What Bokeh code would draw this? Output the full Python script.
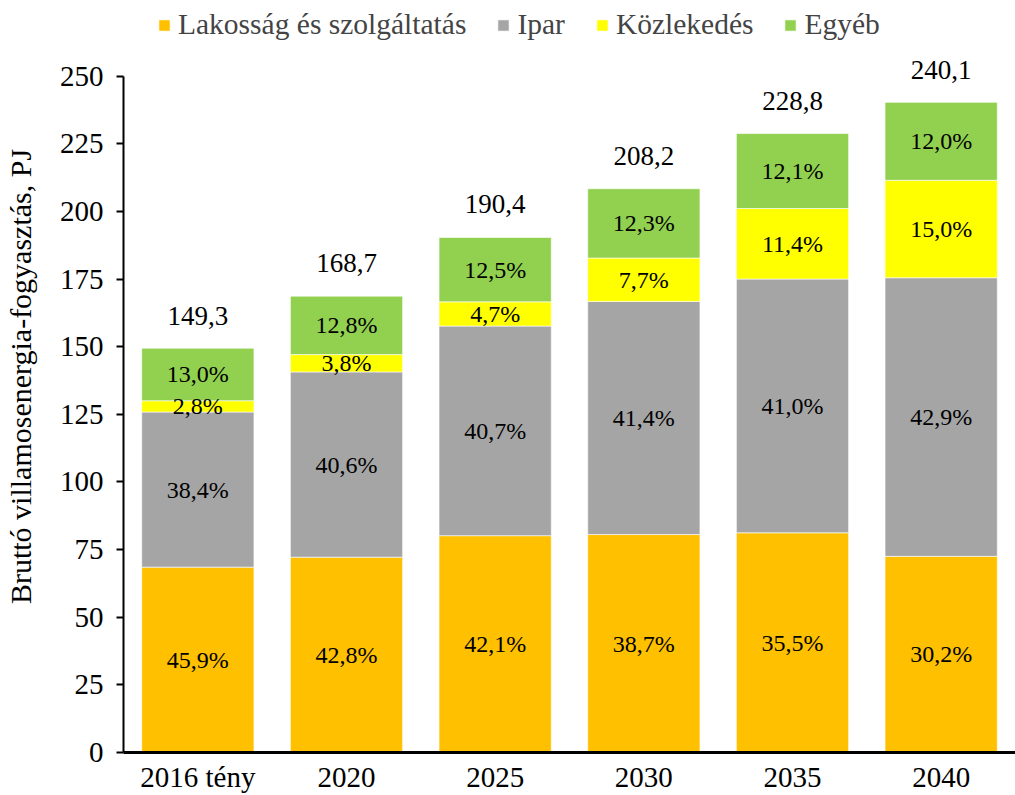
from bokeh.plotting import figure
from bokeh.models import ColumnDataSource, FixedTicker, Legend, LegendItem, LabelSet, FactorRange, Range1d
from bokeh.embed import file_html
from bokeh.resources import INLINE
from bokeh.core.properties import value

categories = ["2016 tény", "2020", "2025", "2030", "2035", "2040"]
totals = [149.3, 168.7, 190.4, 208.2, 228.8, 240.1]
pct_lakossag = [45.9, 42.8, 42.1, 38.7, 35.5, 30.2]
pct_ipar = [38.4, 40.6, 40.7, 41.4, 41.0, 42.9]
pct_kozlekedes = [2.8, 3.8, 4.7, 7.7, 11.4, 15.0]
pct_egyeb = [13.0, 12.8, 12.5, 12.3, 12.1, 12.0]
series_names = ["Lakosság és szolgáltatás", "Ipar", "Közlekedés", "Egyéb"]
colors = ["#FFC000", "#A5A5A5", "#FFFF00", "#92D050"]
y_ticks = [0, 25, 50, 75, 100, 125, 150, 175, 200, 225, 250]

FONT = "Liberation Serif"

def fmt(v):
    return f"{v:.1f}".replace(".", ",")

pcts = [pct_lakossag, pct_ipar, pct_kozlekedes, pct_egyeb]

p = figure(x_range=FactorRange(*categories, range_padding=0), y_range=Range1d(0, 278),
           width=1015, height=795, output_backend="svg", toolbar_location=None,
           min_border_left=123, min_border_right=0, min_border_top=0, min_border_bottom=40)

bottom = [0.0] * len(categories)
renderers = []
for name, pc, col in zip(series_names, pcts, colors):
    vals = [t * q / 100.0 for t, q in zip(totals, pc)]
    top = [b + v for b, v in zip(bottom, vals)]
    src = ColumnDataSource(dict(x=categories, bottom=bottom, top=top,
                                mid=[(b + t) / 2 for b, t in zip(bottom, top)],
                                lab=[fmt(q) + "%" for q in pc]))
    r = p.vbar(x="x", bottom="bottom", top="top", width=0.755, source=src,
               fill_color=col, line_color="white", line_width=1, line_alpha=0.6)
    renderers.append(r)
    p.add_layout(LabelSet(x="x", y="mid", text="lab", source=src,
                          text_align="center", text_baseline="middle",
                          text_font=value(FONT), text_font_size="24px", text_color="black"))
    bottom = top

tsrc = ColumnDataSource(dict(x=categories, y=totals, lab=[fmt(t) for t in totals]))
p.add_layout(LabelSet(x="x", y="y", text="lab", source=tsrc, text_align="center",
                      text_baseline="alphabetic", y_offset=24,
                      text_font=value(FONT), text_font_size="27px", text_color="black"))

legend = Legend(items=[LegendItem(label=n, renderers=[r]) for n, r in zip(series_names, renderers)],
                orientation="horizontal", location=(34, 711),
                label_text_font=FONT, label_text_font_size="29.5px",
                glyph_width=14, glyph_height=14, label_standoff=7, spacing=30,
                padding=0, margin=0, border_line_alpha=0, background_fill_alpha=0)
p.add_layout(legend, "center")

p.xgrid.visible = False
p.ygrid.visible = False
p.outline_line_color = None

p.yaxis.ticker = FixedTicker(ticks=y_ticks)
p.yaxis.bounds = (0, 250)
p.yaxis.axis_line_width = 2
p.yaxis.major_tick_line_width = 2
p.yaxis.major_tick_out = 7
p.yaxis.major_tick_in = 0
p.yaxis.minor_tick_line_color = None
p.yaxis.major_label_standoff = 13
p.yaxis.major_label_text_font = FONT
p.yaxis.major_label_text_font_size = "29px"
p.yaxis.major_label_text_color = "black"
p.yaxis.axis_label = "Bruttó villamosenergia-fogyasztás, PJ"
p.yaxis.axis_label_text_font = FONT
p.yaxis.axis_label_text_font_size = "30px"
p.yaxis.axis_label_text_font_style = "normal"
p.yaxis.axis_label_text_color = "black"
p.yaxis.axis_label_standoff = 20

p.xaxis.axis_line_width = 3
p.xaxis.major_tick_line_color = None
p.xaxis.minor_tick_line_color = None
p.xaxis.major_label_standoff = 2
p.xaxis.major_label_text_font = FONT
p.xaxis.major_label_text_font_size = "29px"
p.xaxis.major_label_text_color = "black"

open("out.html", "w").write(file_html(p, INLINE))
